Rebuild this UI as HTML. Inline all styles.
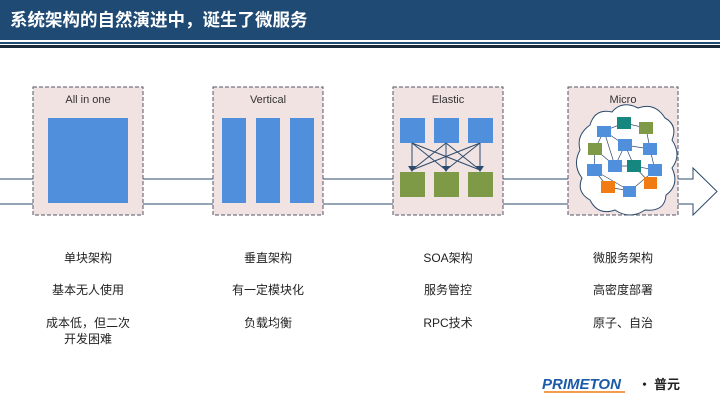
<!DOCTYPE html>
<html><head><meta charset="utf-8"><style>
body{margin:0;width:720px;height:405px;background:#fff;position:relative;overflow:hidden;font-family:"Liberation Sans","Noto Sans CJK SC",sans-serif}
.t{position:absolute;width:140px;text-align:center;font-size:12px;color:#222;line-height:16px}
</style></head><body>
<div style="position:absolute;left:0;top:0;width:720px;height:40px;background:#1f4a74"></div>
<div style="position:absolute;left:10px;top:7px;color:#fff;font-size:17.5px;font-weight:bold;font-family:'Noto Sans CJK SC',sans-serif;line-height:26px">系统架构的自然演进中，诞生了微服务</div>
<div style="position:absolute;left:0;top:42px;width:720px;height:2px;background:#1f4a74"></div>
<div style="position:absolute;left:0;top:45px;width:720px;height:3px;background:#1a2a3a"></div>
<svg width="720" height="405" style="position:absolute;left:0;top:0">
<path d="M0 179 H693 V168 L717 191.5 L693 215 V204 H0" fill="#fff" stroke="#2c4b6c" stroke-width="1"/>
<g fill="#f2e3e3" stroke="#556" stroke-dasharray="4,2">
<rect x="33" y="87" width="110" height="128"/><rect x="213" y="87" width="110" height="128"/>
<rect x="393" y="87" width="110" height="128"/><rect x="568" y="87" width="110" height="128"/></g>
<g font-size="11" fill="#333" text-anchor="middle" font-family="Liberation Sans,sans-serif">
<text x="88" y="103">All in one</text><text x="268" y="103">Vertical</text><text x="448" y="103">Elastic</text><text x="623" y="103">Micro</text></g>
<rect x="48" y="118" width="80" height="85" fill="#4f8fdb"/>
<g fill="#4f8fdb"><rect x="222" y="118" width="24" height="85"/><rect x="256" y="118" width="24" height="85"/><rect x="290" y="118" width="24" height="85"/>
<rect x="400" y="118" width="25" height="25"/><rect x="434" y="118" width="25" height="25"/><rect x="468" y="118" width="25" height="25"/></g>
<g fill="#7e9a46"><rect x="400" y="172" width="25" height="25"/><rect x="434" y="172" width="25" height="25"/><rect x="468" y="172" width="25" height="25"/></g>
<g stroke="#2c4b6c" stroke-width="1">
<line x1="412" y1="143" x2="412" y2="170"/><line x1="412" y1="143" x2="446" y2="170"/><line x1="412" y1="143" x2="480" y2="170"/>
<line x1="446" y1="143" x2="412" y2="170"/><line x1="446" y1="143" x2="446" y2="170"/><line x1="446" y1="143" x2="480" y2="170"/>
<line x1="480" y1="143" x2="412" y2="170"/><line x1="480" y1="143" x2="446" y2="170"/><line x1="480" y1="143" x2="480" y2="170"/></g>
<g fill="#2c4b6c"><path d="M408 166 L416 166 L412 172Z"/><path d="M442 166 L450 166 L446 172Z"/><path d="M476 166 L484 166 L480 172Z"/></g>
<path d="M590 125 Q595 108 612 112 Q622 100 638 108 Q655 102 665 118 Q678 125 672 140 Q682 155 672 168 Q680 185 666 195 Q665 212 645 210 Q630 220 615 210 Q598 216 590 200 Q576 192 582 178 Q572 165 580 150 Q576 135 590 125Z" fill="#fff" stroke="#2c4b6c"/>
<g stroke="#2c4b6c" stroke-width="0.7" fill="none">
<path d="M604 131 L624 123 L646 128 L650 149 L655 170 L630 191 L608 187 L594 170 L595 149 Z"/>
<path d="M604 131 L625 145 L650 149 M595 149 L615 166 L634 166 L655 170 M625 145 L615 166 M625 145 L634 166 M594 170 L630 191 M650 183 L634 166 M604 131 L615 166"/></g>
<g fill="#4f8fdb"><rect x="597" y="126" width="14" height="11"/><rect x="618" y="139" width="14" height="12"/><rect x="643" y="143" width="14" height="12"/><rect x="587" y="164" width="15" height="12"/><rect x="608" y="160" width="14" height="12"/><rect x="648" y="164" width="14" height="12"/><rect x="623" y="186" width="13" height="11"/></g>
<g fill="#16877e"><rect x="617" y="117" width="14" height="12"/><rect x="627" y="160" width="14" height="12"/></g>
<g fill="#7e9a46"><rect x="639" y="122" width="14" height="12"/><rect x="588" y="143" width="14" height="12"/></g>
<g fill="#f07c13"><rect x="601" y="181" width="14" height="12"/><rect x="644" y="177" width="13" height="12"/></g>
<text x="542" y="389" font-size="15" font-style="italic" font-weight="bold" fill="#1a5aa8" font-family="Liberation Sans,sans-serif">PRIMETON</text>
<line x1="544" y1="392" x2="625" y2="392" stroke="#f07c13" stroke-width="1.5"/>
<text x="638" y="389" font-size="13" font-weight="bold" fill="#222" font-family="Noto Sans CJK SC,sans-serif">· 普元</text>
</svg>
<div class="t" style="left:18px;top:250px">单块架构</div>
<div class="t" style="left:18px;top:282px">基本无人使用</div>
<div class="t" style="left:18px;top:315px">成本低，但二次<br>开发困难</div>
<div class="t" style="left:198px;top:250px">垂直架构</div>
<div class="t" style="left:198px;top:282px">有一定模块化</div>
<div class="t" style="left:198px;top:315px">负载均衡</div>
<div class="t" style="left:378px;top:250px">SOA架构</div>
<div class="t" style="left:378px;top:282px">服务管控</div>
<div class="t" style="left:378px;top:315px">RPC技术</div>
<div class="t" style="left:553px;top:250px">微服务架构</div>
<div class="t" style="left:553px;top:282px">高密度部署</div>
<div class="t" style="left:553px;top:315px">原子、自治</div>
</body></html>
